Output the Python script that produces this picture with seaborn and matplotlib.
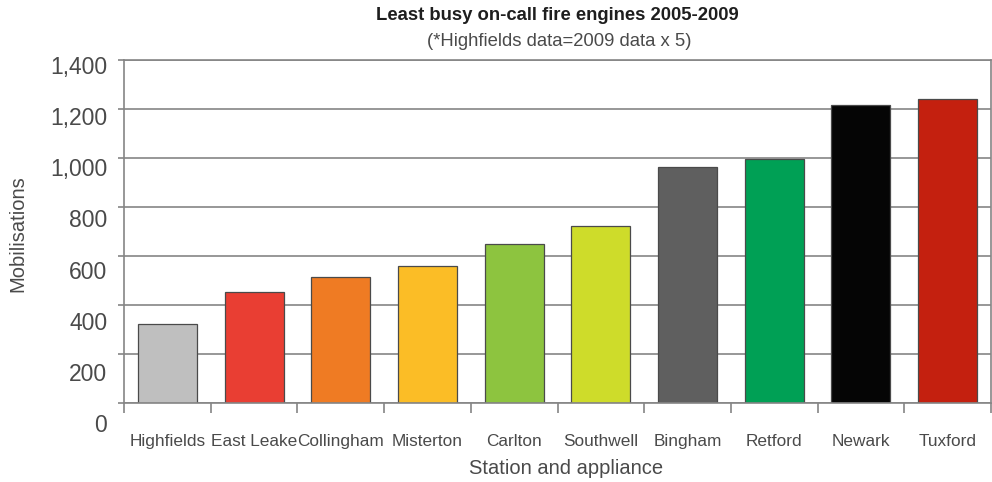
import matplotlib
matplotlib.use("Agg")
import matplotlib.pyplot as plt
import seaborn as sns
import pandas as pd

# Station appliances and their mobilisations 2005-2009
stations = ["Highfields", "East Leake", "Collingham", "Misterton", "Carlton",
            "Southwell", "Bingham", "Retford", "Newark", "Tuxford"]
mobilisations = [322, 455, 513, 560, 649, 722, 964, 997, 1215, 1242]
bar_colors = ["#bfbfbf", "#e93e33", "#ef7b23", "#fbbd26", "#8dc43f",
              "#cedc2a", "#5f5f5f", "#00a055", "#050505", "#c4200f"]
y_ticks = [0, 200, 400, 600, 800, 1000, 1200, 1400]
y_tick_labels = ["0", "200", "400", "600", "800", "1,000", "1,200", "1,400"]

sns.set_theme(style="white")
plt.rcParams["font.family"] = ["Liberation Sans", "DejaVu Sans"]

W, H = 992, 482
fig = plt.figure(figsize=(W / 100, H / 100), dpi=100)

grid_col = "#858585"
text_col = "#4a4a4a"

# main plotting area
ax = fig.add_axes([124 / W, 1 - 403 / H, (991 - 124) / W, (403 - 60) / H])
df = pd.DataFrame({"station": stations, "value": mobilisations})
sns.barplot(data=df, x="station", y="value", hue="station",
            palette=bar_colors, saturation=1, width=0.68, edgecolor="#4a4a4a",
            linewidth=0.9, legend=False, ax=ax)
ax.set_ylim(0, 1400)
ax.set_xlim(-0.5, len(stations) - 0.5)
ax.set_yticks(y_ticks)
ax.set_yticklabels([])
ax.yaxis.grid(True, color=grid_col, linewidth=1.2)
ax.set_axisbelow(True)
for sp in ax.spines.values():
    sp.set_visible(True)
    sp.set_color(grid_col)
    sp.set_linewidth(1.2)
ax.tick_params(axis="y", which="major", left=True, length=4.5, width=1.2,
               color=grid_col, direction="out")

# category labels under the bars, boundary ticks between them
ax.set_xticks(range(len(stations)))
ax.set_xticklabels(stations, fontsize=12.4, color=text_col)
ax.tick_params(axis="x", which="major", length=0, pad=22)
ax.set_xticks([i - 0.5 for i in range(len(stations) + 1)], minor=True)
ax.tick_params(axis="x", which="minor", bottom=True, length=7.5, width=1.2,
               color=grid_col, direction="out")
ax.set_xlabel("")
ax.set_ylabel("")

# value labels on the left
lab = fig.add_axes([124 / W, 1 - 423 / H, (991 - 124) / W, (423 - 65) / H])
lab.set_ylim(0, 1400)
lab.set_yticks(y_ticks)
lab.set_yticklabels(y_tick_labels, fontsize=16.5, color=text_col)
lab.tick_params(axis="y", length=0, pad=12)
lab.set_xticks([])
lab.patch.set_visible(False)
for sp in lab.spines.values():
    sp.set_visible(False)

fig.text(557 / W, 1 - 15 / H, "Least busy on-call fire engines 2005-2009",
         ha="center", va="center", fontsize=13.3, fontweight="bold", color="#1e1e1e")
fig.text(559 / W, 1 - 42 / H, "(*Highfields data=2009 data x 5)",
         ha="center", va="center", fontsize=13.3, color=text_col)
fig.text(566 / W, 1 - 469 / H, "Station and appliance",
         ha="center", va="center", fontsize=14.5, color=text_col)
fig.text(18 / W, 1 - 234 / H, "Mobilisations", rotation=90,
         ha="center", va="center", fontsize=14.5, color=text_col)

fig.savefig("out.png", dpi=100)
